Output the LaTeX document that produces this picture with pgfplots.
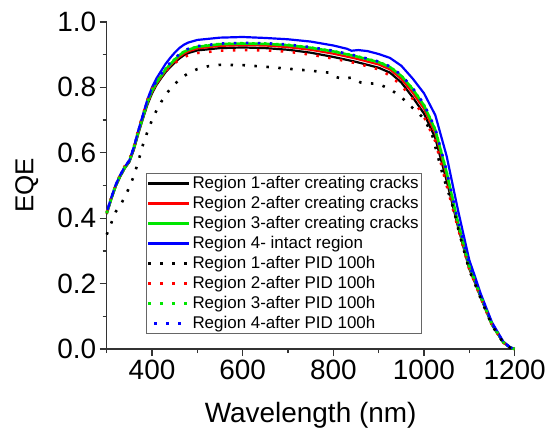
\documentclass[border=0pt]{standalone}
\usepackage{pgfplots}
\pgfplotsset{compat=1.18}
\usepackage{fontspec}
\setmainfont{Liberation Sans}
\definecolor{cBlack}{RGB}{0,0,0}
\definecolor{cRed}{RGB}{255,0,0}
\definecolor{cGreen}{RGB}{0,230,0}
\definecolor{cBlue}{RGB}{0,0,255}
\begin{document}
\begin{tikzpicture}
\begin{axis}[
  scale only axis,
  width=409pt, height=328pt,
  xmin=300, xmax=1200, ymin=0, ymax=1.0,
  axis x line=bottom, axis y line=left,
  axis line style={-, line width=1.3pt, black!80},
  xtick={400,600,800,1000,1200},
  minor xtick={300,500,700,900,1100},
  ytick={0,0.2,0.4,0.6,0.8,1.0},
  minor ytick={0.1,0.3,0.5,0.7,0.9},
  tick align=outside,
  major tick length=7pt, minor tick length=4pt,
  every tick/.style={line width=1.2pt, black!80},
  /pgf/number format/assume math mode=true,
  x tick label style={/pgf/number format/set thousands separator={}},
  y tick label style={/pgf/number format/fixed, /pgf/number format/fixed zerofill, /pgf/number format/precision=1},
  tick label style={font=\fontsize{28}{30}\selectfont},
  xlabel={Wavelength (nm)}, ylabel={EQE},
  xlabel style={font=\fontsize{28}{30}\selectfont, at={(axis description cs:0.5,0)}, anchor=north, yshift=-50pt},
  ylabel style={font=\fontsize{26}{28}\selectfont, at={(axis description cs:-0.196,0.5)}, anchor=center},
  legend style={at={(rel axis cs:0.0954,0.0457)}, anchor=south west, draw=black!60, line width=0.8pt,
    font=\fontsize{17}{20}\selectfont, inner xsep=1pt, inner ysep=1.5pt, row sep=2.2pt, fill=white},
  legend cell align=left,
  legend image code/.code={\draw[#1] (0pt,0pt) -- (41pt,0pt);},
  every axis plot/.append style={line join=round},
  clip=false,
]
% Region 1 cracks
\addplot[cBlack, line width=2.2pt] coordinates {
(300,0.413)(310,0.458)(320,0.498)(330,0.528)(340,0.553)(350,0.572)(360,0.61)(370,0.66)(380,0.705)(390,0.748)(400,0.782)(410,0.808)(420,0.828)(430,0.847)(440,0.862)(450,0.876)(460,0.888)(470,0.898)(480,0.905)(500,0.913)(550,0.92)(600,0.922)(650,0.92)(700,0.915)(750,0.906)(800,0.893)(850,0.878)(900,0.86)(925,0.845)(950,0.815)(975,0.77)(1000,0.72)(1025,0.645)(1050,0.515)(1075,0.375)(1100,0.245)(1110,0.212)(1125,0.158)(1150,0.074)(1175,0.02)(1190,0.005)(1200,0.0)};
\addlegendentry{Region 1-after creating cracks}
% Region 2 cracks
\addplot[cRed, line width=2.2pt] coordinates {
(300,0.414)(310,0.459)(320,0.499)(330,0.529)(340,0.554)(350,0.574)(360,0.613)(370,0.663)(380,0.708)(390,0.752)(400,0.786)(410,0.811)(420,0.831)(430,0.851)(440,0.866)(450,0.88)(460,0.893)(470,0.903)(480,0.91)(500,0.919)(550,0.927)(600,0.929)(650,0.928)(700,0.923)(750,0.915)(800,0.903)(850,0.888)(900,0.87)(925,0.855)(950,0.826)(975,0.784)(1000,0.735)(1025,0.66)(1050,0.53)(1075,0.38)(1100,0.248)(1110,0.214)(1125,0.16)(1150,0.075)(1175,0.02)(1190,0.005)(1200,0.0)};
\addlegendentry{Region 2-after creating cracks}
% Region 3 cracks
\addplot[cGreen, line width=2.6pt] coordinates {
(300,0.415)(310,0.46)(320,0.5)(330,0.53)(340,0.555)(350,0.575)(360,0.615)(370,0.665)(380,0.71)(390,0.755)(400,0.79)(410,0.815)(420,0.835)(430,0.855)(440,0.87)(450,0.885)(460,0.898)(470,0.908)(480,0.915)(500,0.924)(550,0.932)(600,0.934)(650,0.933)(700,0.929)(750,0.921)(800,0.91)(850,0.895)(900,0.877)(925,0.862)(950,0.835)(975,0.795)(1000,0.745)(1025,0.67)(1050,0.54)(1075,0.385)(1100,0.252)(1110,0.218)(1125,0.162)(1150,0.076)(1175,0.021)(1190,0.005)(1200,0.0)};
\addlegendentry{Region 3-after creating cracks}
% Region 4 intact
\addplot[cBlue, line width=2.2pt] coordinates {
(300,0.418)(310,0.463)(320,0.503)(330,0.533)(340,0.558)(350,0.576)(360,0.618)(370,0.67)(380,0.717)(390,0.764)(400,0.8)(410,0.828)(420,0.85)(430,0.872)(440,0.89)(450,0.906)(460,0.92)(470,0.93)(480,0.937)(500,0.945)(550,0.952)(600,0.954)(650,0.951)(700,0.947)(750,0.94)(800,0.928)(830,0.918)(840,0.912)(855,0.914)(875,0.911)(900,0.902)(925,0.89)(950,0.866)(975,0.827)(1000,0.782)(1025,0.715)(1050,0.59)(1075,0.425)(1100,0.272)(1110,0.232)(1125,0.17)(1150,0.082)(1175,0.023)(1190,0.006)(1200,0.0)};
\addlegendentry{Region 4- intact region}
% Region 1 PID
\addplot[cBlack, line width=2.6pt, dash pattern=on 2.5pt off 9.5pt] coordinates {
(300,0.35)(310,0.385)(320,0.42)(330,0.44)(340,0.465)(350,0.495)(360,0.53)(370,0.575)(380,0.625)(390,0.665)(400,0.7)(410,0.73)(420,0.755)(430,0.777)(440,0.795)(450,0.81)(460,0.823)(470,0.834)(480,0.843)(500,0.856)(525,0.865)(550,0.869)(600,0.868)(650,0.863)(700,0.857)(750,0.851)(790,0.845)(805,0.832)(820,0.826)(840,0.83)(860,0.815)(900,0.81)(925,0.795)(950,0.77)(975,0.737)(1000,0.705)(1018,0.655)(1040,0.54)(1066,0.425)(1075,0.37)(1100,0.24)(1110,0.208)(1125,0.155)(1150,0.072)(1175,0.019)(1190,0.004)(1200,0.0)};
\addlegendentry{Region 1-after PID 100h}
% Region 2 PID
\addplot[cRed, line width=2.6pt, dash pattern=on 2.5pt off 9.5pt] coordinates {
(300,0.418)(310,0.463)(320,0.503)(330,0.534)(340,0.56)(350,0.579)(360,0.62)(370,0.672)(380,0.718)(390,0.762)(400,0.795)(410,0.818)(420,0.835)(430,0.85)(440,0.863)(450,0.874)(460,0.884)(470,0.892)(480,0.898)(500,0.905)(550,0.912)(600,0.914)(650,0.913)(700,0.909)(750,0.9)(800,0.888)(850,0.874)(900,0.855)(925,0.836)(950,0.806)(975,0.765)(1000,0.71)(1025,0.635)(1050,0.5)(1075,0.37)(1100,0.243)(1110,0.21)(1125,0.157)(1150,0.073)(1175,0.02)(1190,0.005)(1200,0.0)};
\addlegendentry{Region 2-after PID 100h}
% Region 3 PID
\addplot[cGreen, line width=2.6pt, dash pattern=on 2.5pt off 9.5pt] coordinates {
(300,0.416)(310,0.461)(320,0.501)(330,0.531)(340,0.556)(350,0.576)(360,0.616)(370,0.666)(380,0.711)(390,0.756)(400,0.791)(410,0.816)(420,0.836)(430,0.856)(440,0.871)(450,0.886)(460,0.899)(470,0.909)(480,0.916)(500,0.925)(550,0.933)(600,0.935)(650,0.934)(700,0.93)(750,0.922)(800,0.911)(850,0.896)(900,0.878)(925,0.863)(950,0.836)(975,0.796)(1000,0.746)(1025,0.671)(1050,0.541)(1075,0.386)(1100,0.253)(1110,0.219)(1125,0.163)(1150,0.077)(1175,0.021)(1190,0.005)(1200,0.0)};
\addlegendentry{Region 3-after PID 100h}
% Region 4 PID
\addplot[cBlue, line width=2.6pt, dash pattern=on 2.5pt off 9.5pt, dash phase=6pt] coordinates {
(300,0.417)(310,0.462)(320,0.502)(330,0.532)(340,0.557)(350,0.577)(360,0.617)(370,0.668)(380,0.714)(390,0.76)(400,0.796)(410,0.82)(420,0.84)(430,0.86)(440,0.875)(450,0.889)(460,0.901)(470,0.911)(480,0.918)(500,0.926)(550,0.934)(600,0.936)(650,0.935)(700,0.931)(750,0.923)(800,0.912)(850,0.897)(900,0.879)(925,0.864)(950,0.838)(975,0.798)(1000,0.749)(1025,0.674)(1050,0.545)(1075,0.39)(1100,0.256)(1110,0.22)(1125,0.164)(1150,0.078)(1175,0.021)(1190,0.005)(1200,0.0)};
\addlegendentry{Region 4-after PID 100h}
\end{axis}
\useasboundingbox ([shift={(-107pt,-87pt)}]current axis.south west) rectangle ([shift={(33pt,22pt)}]current axis.north east);
\end{tikzpicture}
\end{document}
